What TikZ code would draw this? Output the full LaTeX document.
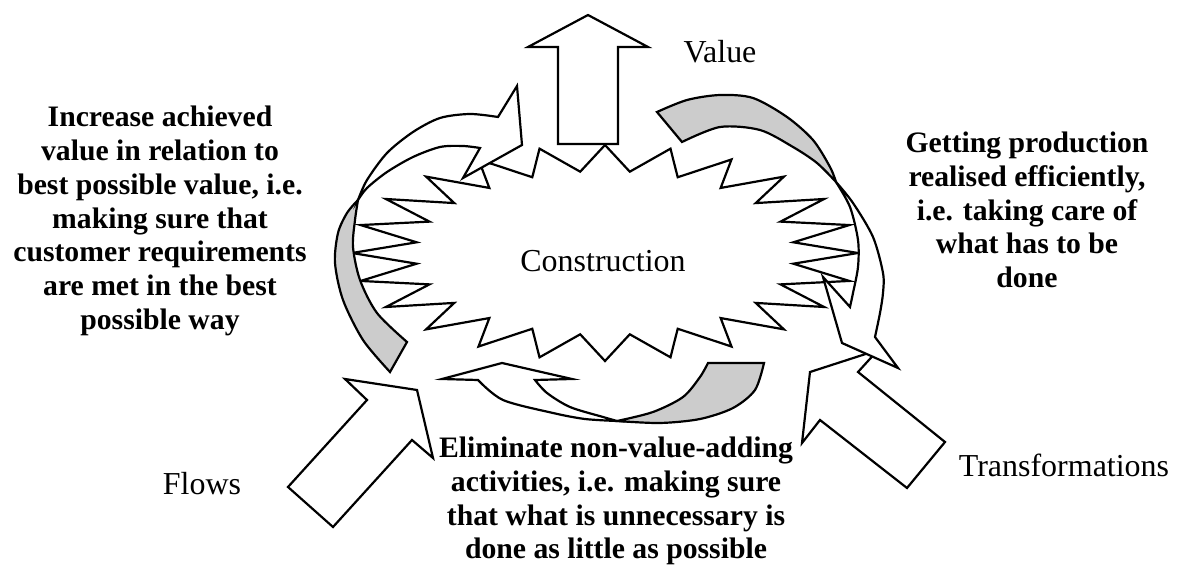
\documentclass[tikz,border=0pt]{standalone}
\usepackage{fontspec}
\setmainfont{Liberation Serif}
\usepackage{tikz}
\tikzset{
  jag/.style      = {draw, fill=white},
  bigarrow/.style = {draw, fill=white},
  front/.style    = {draw, fill=white},
  back/.style     = {draw, fill=gray!40},
  lbl/.style      = {font=\fontsize{18.2}{21}\selectfont, inner sep=0pt},
  note/.style     = {font=\fontsize{16.9}{19.2}\selectfont\bfseries,
                     align=center, inner sep=0pt},
}

\begin{document}
\begin{tikzpicture}[x=0.02cm, y=-0.02cm, line width=1.25pt, line join=miter]
  \useasboundingbox (0,0) rectangle (1180,567);

  % jagged outline of the construction
  \draw[jag] (858,253)
    \foreach \a in {0,15,...,330}{
      -- ({605+190*cos(\a+7.5)},{253-82*sin(\a+7.5)})
      -- ({605+253*cos(\a+15)},{253-108*sin(\a+15)}) }
    -- ({605+190*cos(352.5)},{253-82*sin(352.5)}) -- cycle;

  % value output
  \draw[bigarrow] (558,144) -- (618,144) -- (618,47) -- (648,47) -- (588,15)
    -- (528,47) -- (558,47) -- cycle;

  % shaded backs of the curved arrows
  \draw[back] plot[smooth] coordinates {(358,200) (347,213) (338,233) (335,263)
      (343,300) (363,340) (390,372)}
    -- plot[smooth] coordinates {(407,342) (377,313) (360,280) (353,247)
      (355,220) (358,200)} -- cycle;
  \draw[back] plot[smooth] coordinates {(657,112) (687,100) (720,95) (753,98)
      (787,117) (813,140) (830,167) (836,182)}
    -- plot[smooth] coordinates {(836,182) (817,163) (793,147) (760,130)
      (720,127) (682,142)} -- cycle;
  \draw[back] plot[smooth] coordinates {(708,363) (700,377) (683,397)
      (653,412) (617,421)}
    -- plot[smooth] coordinates {(617,421) (660,423) (700,419) (733,408)
      (755,390) (764,363)} -- cycle;

  % inputs
  \draw[bigarrow] (288,487) -- (367,400) -- (345,379) -- (417,390) -- (433,458)
    -- (412,440) -- (333,527) -- cycle;
  \draw[bigarrow] (945,442) -- (858,372) -- (878,350) -- (810,372) -- (802,443)
    -- (820,420) -- (907,488) -- cycle;

  % fronts of the curved arrows
  \draw[front] plot[smooth] coordinates {(358,200) (367,180) (387,153) (413,132)
      (440,118) (470,114) (498,117)}
    -- (517,86) -- (522,145) -- (463,178)
    -- plot[smooth] coordinates {(480,148) (463,146) (440,147) (413,157)
      (387,172) (367,188) (358,200)} -- cycle;
  \draw[front] plot[smooth] coordinates {(836,182) (853,203) (873,237) (883,273)
      (883,293) (880,313) (875,337)}
    -- (898,368) -- (842,343) -- (823,277)
    -- plot[smooth] coordinates {(850,307) (853,293) (858,267) (858,240)
      (850,207) (836,182)} -- cycle;
  \draw[front] plot[smooth] coordinates {(617,421) (585,419) (553,413)
      (503,400) (478,380)}
    -- (442,379) -- (502,363) -- (572,379)
    -- plot[smooth] coordinates {(535,380) (547,393) (570,407) (603,417)
      (617,421)} -- cycle;

  % labels
  \node[lbl] (value)  at (720,52)   {Value};
  \node[lbl] (constr) at (603,261)  {Construction};
  \node[lbl] (flows)  at (202,484)  {Flows};
  \node[lbl] (trans)  at (1064,465) {Transformations};

  \node[note] (valnote)   at (160,221) {Increase achieved\\value in relation to\\best possible value, i.e.\\making sure that\\customer requirements\\are met in the best\\possible way};
  \node[note] (transnote) at (1027,210) {Getting production\\realised efficiently,\\i.e. taking care of\\what has to be\\done};
  \node[note] (flownote)  at (616,501) {Eliminate non-value-adding\\activities, i.e. making sure\\that what is unnecessary is\\done as little as possible};
\end{tikzpicture}
\end{document}
